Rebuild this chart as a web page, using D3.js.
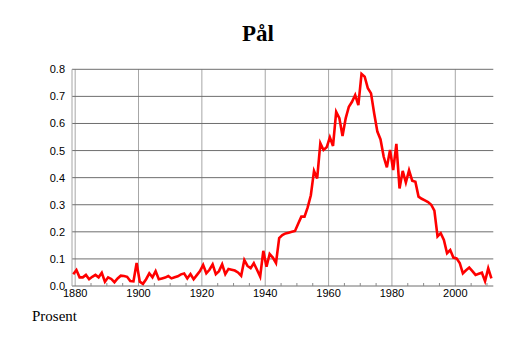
<!DOCTYPE html>
<html>
<head>
<meta charset="utf-8">
<script src="https://cdn.jsdelivr.net/npm/d3@7"></script>
<style>
  body { margin: 0; background: #fff; }
</style>
</head>
<body>
<div id="chart"></div>
<script>
// share of men named Pål, per year
var firstYear = 1880
var values = [
  0.043, 0.059, 0.032, 0.032, 0.041, 0.025, 0.034, 0.041, 0.032, 0.049,
  0.016, 0.032, 0.026, 0.014, 0.028, 0.038, 0.037, 0.034, 0.018, 0.017,
  0.085, 0.016, 0.008, 0.025, 0.047, 0.032, 0.055, 0.025, 0.028, 0.031,
  0.037, 0.028, 0.032, 0.036, 0.043, 0.046, 0.028, 0.044, 0.025, 0.040,
  0.055, 0.078, 0.047, 0.060, 0.080, 0.044, 0.055, 0.080, 0.044, 0.063,
  0.060, 0.057, 0.050, 0.038, 0.096, 0.074, 0.066, 0.084, 0.060, 0.035,
  0.130, 0.071, 0.118, 0.105, 0.085, 0.177, 0.188, 0.194, 0.197, 0.200,
  0.203, 0.230, 0.256, 0.256, 0.290, 0.335, 0.425, 0.397, 0.527, 0.502,
  0.512, 0.549, 0.517, 0.643, 0.620, 0.554, 0.619, 0.662, 0.680, 0.705,
  0.668, 0.783, 0.773, 0.730, 0.711, 0.637, 0.570, 0.541, 0.477, 0.438,
  0.502, 0.428, 0.525, 0.360, 0.425, 0.382, 0.427, 0.389, 0.385, 0.330,
  0.322, 0.316, 0.310, 0.300, 0.278, 0.183, 0.195, 0.170, 0.121, 0.133,
  0.105, 0.102, 0.085, 0.047, 0.058, 0.068, 0.055, 0.041, 0.045, 0.049,
  0.018, 0.065, 0.028
]
var xMajor = [1880, 1900, 1920, 1940, 1960, 1980, 2000]
var xMinor = [1885, 1890, 1895, 1905, 1910, 1915, 1925, 1930, 1935, 1945, 1950, 1955,
              1965, 1970, 1975, 1985, 1990, 1995, 2005, 2010]
var yTicks = [0, 0.1, 0.2, 0.3, 0.4, 0.5, 0.6, 0.7, 0.8]

var title = "Pål"
var yLabel = "Prosent"

var W = 514, H = 343
var margin = {top: 69.3, right: 20.7, bottom: 57, left: 72}

var svg = d3.select("#chart").append("svg")
    .attr("width", W)
    .attr("height", H)

var x = d3.scaleLinear().domain([1879, 2012]).range([margin.left, W - margin.right])
var y = d3.scaleLinear().domain([0, 0.8]).range([H - margin.bottom, margin.top])

// points sit a little left of the year gridlines in the original
var shift = 0.6

// vertical grid
svg.append("g").selectAll("line")
    .data(xMajor).enter().append("line")
    .attr("x1", d => x(d)).attr("x2", d => x(d))
    .attr("y1", y(0)).attr("y2", y(0.8))
    .style("stroke", "#a6a6a6").style("stroke-width", 1)

// horizontal grid
svg.append("g").selectAll("line")
    .data(yTicks).enter().append("line")
    .attr("x1", x.range()[0]).attr("x2", x.range()[1])
    .attr("y1", d => y(d)).attr("y2", d => y(d))
    .style("stroke", "#6e6e6e").style("stroke-width", 1)

// left axis line
svg.append("line")
    .attr("x1", x.range()[0]).attr("x2", x.range()[0])
    .attr("y1", y(0)).attr("y2", y(0.8))
    .style("stroke", "#a6a6a6")

// minor ticks on the bottom axis
svg.append("g").selectAll("line")
    .data(xMinor).enter().append("line")
    .attr("x1", d => x(d)).attr("x2", d => x(d))
    .attr("y1", y(0)).attr("y2", y(0) - 3)
    .style("stroke", "#8a8a8a")

// tick labels
svg.append("g").selectAll("text")
    .data(xMajor).enter().append("text")
    .attr("x", d => x(d))
    .attr("y", y(0) + 11)
    .attr("text-anchor", "middle")
    .style("font-family", "'Liberation Sans', Arial, sans-serif")
    .style("font-size", "11px")
    .text(d => d)

svg.append("g").selectAll("text")
    .data(yTicks).enter().append("text")
    .attr("x", margin.left - 7)
    .attr("y", d => y(d) + 4)
    .attr("text-anchor", "end")
    .style("font-family", "'Liberation Sans', Arial, sans-serif")
    .style("font-size", "11px")
    .text(d => d3.format(".1f")(d))

// the series
var line = d3.line()
    .x((d, i) => x(firstYear + i - shift))
    .y(d => y(d))

svg.append("path")
    .datum(values)
    .attr("d", line)
    .style("fill", "none")
    .style("stroke", "#ff0000")
    .style("stroke-width", 2.6)

// title and unit
svg.append("text")
    .attr("x", 258)
    .attr("y", 41)
    .attr("text-anchor", "middle")
    .style("font-family", "'Liberation Serif', 'Times New Roman', serif")
    .style("font-weight", "bold")
    .style("font-size", "23px")
    .text(title)

svg.append("text")
    .attr("x", 32)
    .attr("y", 321)
    .style("font-family", "'Liberation Serif', 'Times New Roman', serif")
    .style("font-size", "15px")
    .text(yLabel)
</script>
</body>
</html>
